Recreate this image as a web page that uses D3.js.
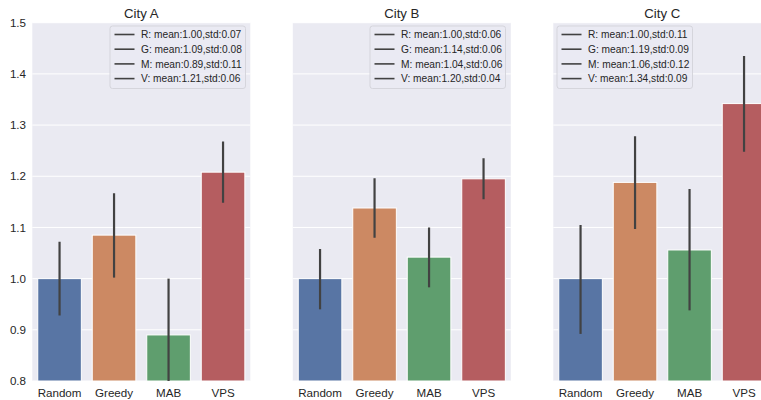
<!DOCTYPE html>
<html><head><meta charset="utf-8">
<script src="https://cdn.jsdelivr.net/npm/d3@7"></script>
<style>body{margin:0;background:#fff;}svg{display:block;font-family:"Liberation Sans",Arial,sans-serif;}</style>
</head><body>
<svg id="c" width="761" height="400"></svg>
<script>
const categories = ["Random","Greedy","MAB","VPS"];
const cities = ["City A","City B","City C"];
const meansA = [1.00,1.085,0.89,1.208];
const meansB = [1.00,1.138,1.042,1.195];
const meansC = [1.00,1.188,1.056,1.342];
const ciLowA = [0.928,1.002,0.78,1.148];
const ciHighA = [1.072,1.167,1.00,1.268];
const ciLowB = [0.94,1.08,0.983,1.155];
const ciHighB = [1.058,1.196,1.10,1.235];
const ciLowC = [0.892,1.097,0.938,1.248];
const ciHighC = [1.105,1.278,1.175,1.435];
const legendA = ["R: mean:1.00,std:0.07","G: mean:1.09,std:0.08","M: mean:0.89,std:0.11","V: mean:1.21,std:0.06"];
const legendB = ["R: mean:1.00,std:0.06","G: mean:1.14,std:0.06","M: mean:1.04,std:0.06","V: mean:1.20,std:0.04"];
const legendC = ["R: mean:1.00,std:0.11","G: mean:1.19,std:0.09","M: mean:1.06,std:0.12","V: mean:1.34,std:0.09"];
const yTicks = [0.8,0.9,1.0,1.1,1.2,1.3,1.4,1.5];
const colors = ["#5875A4","#CC8963","#5F9E6E","#B55D60"];

const panels = [
  {title:cities[0], means:meansA, lo:ciLowA, hi:ciHighA, legend:legendA, left:32.3, legX:110},
  {title:cities[1], means:meansB, lo:ciLowB, hi:ciHighB, legend:legendB, left:292.8, legX:370},
  {title:cities[2], means:meansC, lo:ciLowC, hi:ciHighC, legend:legendC, left:553.3, legX:557}
];
const W = 218, plotTop = 22.7, plotBottom = 381;
const svg = d3.select("#c");
const y = d3.scaleLinear().domain([0.8,1.5]).range([plotBottom, plotTop]);

svg.append("defs").append("clipPath").attr("id","clipAll")
  .append("rect").attr("x",0).attr("y",plotTop).attr("width",761).attr("height",plotBottom-plotTop);

panels.forEach((p,pi)=>{
  const g = svg.append("g");
  const x = d3.scaleBand().domain(categories).range([p.left, p.left+W]).paddingInner(0.2).paddingOuter(0.1);
  g.append("rect").attr("x",p.left).attr("y",plotTop).attr("width",W).attr("height",plotBottom-plotTop).attr("fill","#EAEAF2");
  g.selectAll(".grid").data(yTicks).join("line")
    .attr("x1",p.left).attr("x2",p.left+W).attr("y1",d=>y(d)).attr("y2",d=>y(d))
    .attr("stroke","#fff").attr("stroke-width",1);
  const cg = g.append("g").attr("clip-path","url(#clipAll)");
  cg.selectAll(".bar").data(p.means).join("rect")
    .attr("x",(d,i)=>x(categories[i])).attr("width",x.bandwidth())
    .attr("y",d=>y(d)).attr("height",d=>y(0.8)-y(d))
    .attr("fill",(d,i)=>colors[i]).attr("stroke","#fff").attr("stroke-width",1);
  cg.selectAll(".err").data(p.means).join("line")
    .attr("x1",(d,i)=>x(categories[i])+x.bandwidth()/2).attr("x2",(d,i)=>x(categories[i])+x.bandwidth()/2)
    .attr("y1",(d,i)=>y(p.lo[i])).attr("y2",(d,i)=>y(p.hi[i]))
    .attr("stroke","#424242").attr("stroke-width",2.2);
  g.selectAll(".xl").data(categories).join("text")
    .attr("x",d=>x(d)+x.bandwidth()/2).attr("y",396.8)
    .attr("text-anchor","middle").attr("font-size",11.6).attr("fill","#262626").text(d=>d);
  g.append("text").attr("x",p.left+W/2).attr("y",18.2).attr("text-anchor","middle")
    .attr("font-size",13.2).attr("fill","#262626").text(p.title);
  if(pi===0){
    g.selectAll(".yl").data(yTicks).join("text")
      .attr("x",26).attr("y",d=>y(d)+4.2).attr("text-anchor","end")
      .attr("font-size",11.6).attr("fill","#262626").text(d=>d.toFixed(1));
  }
  const lg = g.append("g").attr("transform",`translate(${p.legX},26)`);
  lg.append("rect").attr("width",135.5).attr("height",62.5).attr("rx",2.5)
    .attr("fill","#EAEAF2").attr("fill-opacity",0.8).attr("stroke","#D5D5DC").attr("stroke-width",1);
  p.legend.forEach((t,i)=>{
    const yy = 8.5 + i*14.7;
    lg.append("line").attr("x1",4.5).attr("x2",24.5).attr("y1",yy).attr("y2",yy)
      .attr("stroke","#424242").attr("stroke-width",1.6);
    lg.append("text").attr("x",31).attr("y",yy+3.6).attr("font-size",10.2).attr("fill","#262626").text(t);
  });
});
</script>
</body></html>
